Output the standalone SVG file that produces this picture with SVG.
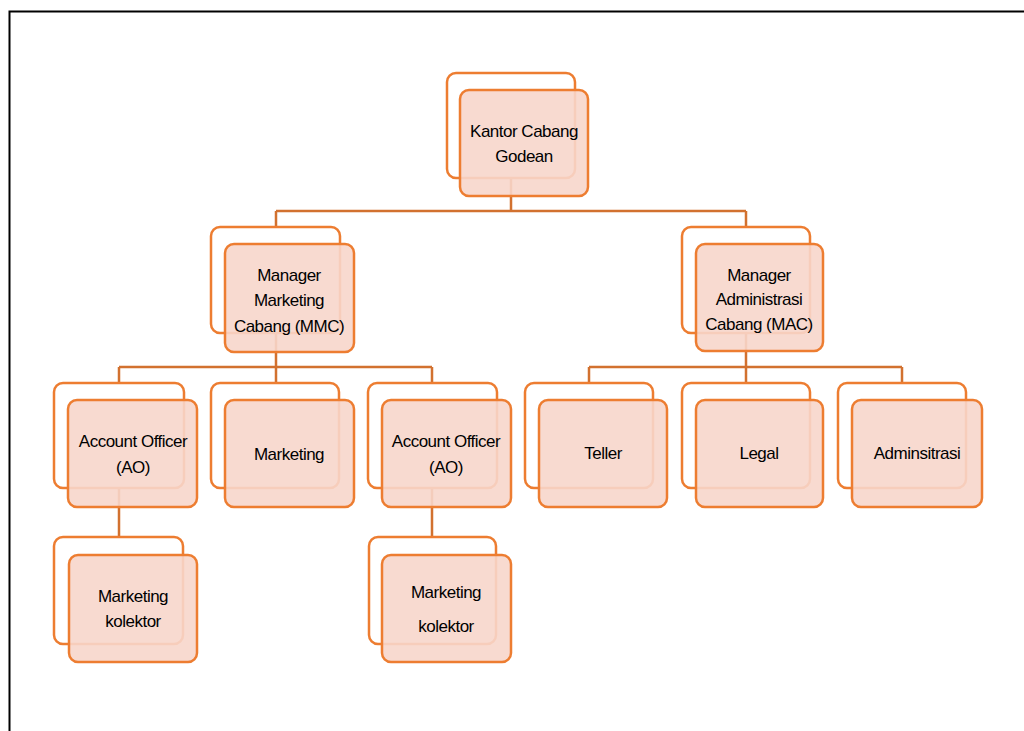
<svg xmlns="http://www.w3.org/2000/svg" width="1024" height="731" viewBox="0 0 1024 731">
<style>
.back{fill:#fff;stroke:#ED7D31;stroke-width:2.5}
.front{fill:#F7D6CB;fill-opacity:0.9;stroke:#ED7D31;stroke-width:2.5}
.conn{fill:none;stroke:#D2712F;stroke-width:2.5}
text{font-family:"Liberation Sans",Arial,sans-serif;font-size:17px;letter-spacing:-0.5px;fill:#000;text-anchor:middle}
</style>
<rect width="1024" height="731" fill="#fff"/>
<path d="M9.5,731 V11.5 H1024" fill="none" stroke="#000" stroke-width="2"/>
<g id="connectors">
<path class="conn" d="M511,178 V211 M276,211 H746 M276,211 V227 M746,211 V227"/>
<path class="conn" d="M276,333 V367 M119,367 H432 M119,367 V383 M276,367 V383 M432,367 V383"/>
<path class="conn" d="M746,333 V367 M589,367 H902 M589,367 V383 M746,367 V383 M902,367 V383"/>
<path class="conn" d="M119,488 V537 M432,488 V537"/>
</g>
<g id="root">
<rect class="back" x="447" y="73" width="128" height="105" rx="9"/>
<rect class="front" x="460" y="90" width="128" height="106" rx="9"/>
<text x="524" y="137">Kantor Cabang</text>
<text x="524" y="162">Godean</text>
</g>
<g id="mmc">
<rect class="back" x="211" y="227" width="129" height="106" rx="9"/>
<rect class="front" x="225" y="244" width="129" height="108" rx="9"/>
<text x="289" y="281">Manager</text>
<text x="289" y="306">Marketing</text>
<text x="289" y="332">Cabang (MMC)</text>
</g>
<g id="mac">
<rect class="back" x="682" y="227" width="128" height="106" rx="9"/>
<rect class="front" x="696" y="244" width="127" height="107" rx="9"/>
<text x="759" y="281">Manager</text>
<text x="759" y="305">Administrasi</text>
<text x="759" y="330">Cabang (MAC)</text>
</g>
<g id="ao1">
<rect class="back" x="54" y="383" width="130" height="105" rx="9"/>
<rect class="front" x="68" y="400" width="129" height="107" rx="9"/>
<text x="133" y="447">Account Officer</text>
<text x="133" y="473">(AO)</text>
</g>
<g id="marketing">
<rect class="back" x="211" y="383" width="128" height="105" rx="9"/>
<rect class="front" x="225" y="400" width="129" height="107" rx="9"/>
<text x="289" y="460">Marketing</text>
</g>
<g id="ao2">
<rect class="back" x="368" y="383" width="129" height="105" rx="9"/>
<rect class="front" x="382" y="400" width="129" height="107" rx="9"/>
<text x="446" y="447">Account Officer</text>
<text x="446" y="473">(AO)</text>
</g>
<g id="teller">
<rect class="back" x="525" y="383" width="128" height="105" rx="9"/>
<rect class="front" x="539" y="400" width="128" height="107" rx="9"/>
<text x="603" y="459">Teller</text>
</g>
<g id="legal">
<rect class="back" x="682" y="383" width="128" height="105" rx="9"/>
<rect class="front" x="696" y="400" width="127" height="107" rx="9"/>
<text x="759" y="459">Legal</text>
</g>
<g id="administrasi">
<rect class="back" x="838" y="383" width="128" height="105" rx="9"/>
<rect class="front" x="852" y="400" width="130" height="107" rx="9"/>
<text x="917" y="459">Adminsitrasi</text>
</g>
<g id="kolektor1">
<rect class="back" x="54" y="537" width="129" height="107" rx="9"/>
<rect class="front" x="69" y="555" width="128" height="107" rx="9"/>
<text x="133" y="602">Marketing</text>
<text x="133" y="627">kolektor</text>
</g>
<g id="kolektor2">
<rect class="back" x="369" y="537" width="127" height="107" rx="9"/>
<rect class="front" x="382" y="555" width="129" height="107" rx="9"/>
<text x="446" y="598">Marketing</text>
<text x="446" y="632">kolektor</text>
</g>
</svg>
